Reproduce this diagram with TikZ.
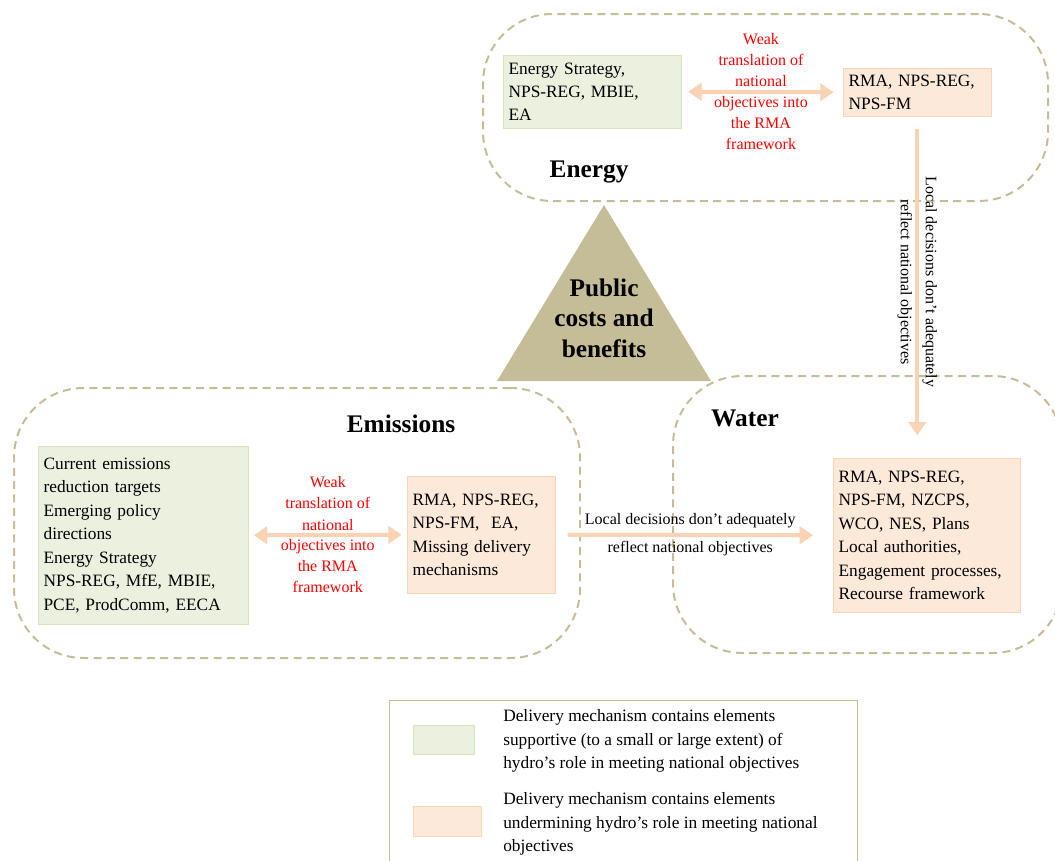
\documentclass[tikz,border=0pt]{standalone}
\usepackage{fontspec}
\setmainfont{Liberation Serif}
\usepackage{tikz}
\usetikzlibrary{positioning, arrows.meta, calc}

\definecolor{tanline}{HTML}{C4BD97}
\definecolor{suppfill}{HTML}{EBF1DE}
\definecolor{suppdraw}{HTML}{D7E4BD}
\definecolor{undmfill}{HTML}{FDE9D9}
\definecolor{undmdraw}{HTML}{FBD5B5}
\definecolor{linkcol}{HTML}{FAD2B4}

\begin{document}
\begin{tikzpicture}[
    x=0.75pt, y=-0.75pt,
    node distance=0.4cm,
    >={Triangle[length=10pt, width=13pt]},
    zone/.style={draw=tanline, line width=1.5pt, dash pattern=on 6pt off 4pt, rounded corners=52pt, anchor=north west, inner sep=0pt},
    mech/.style={anchor=north west, align=left, inner xsep=4pt, inner ysep=0pt, font=\fontsize{13}{17.6}\selectfont},
    supp/.style={mech, fill=suppfill, draw=suppdraw},
    undm/.style={mech, fill=undmfill, draw=undmdraw},
    weak/.style={font=\fontsize{12}{15.75}\selectfont, text=red, align=center},
    ttl/.style={font=\fontsize{19}{23}\selectfont\bfseries, align=center},
    lnk/.style={draw=linkcol, line width=3pt},
    gap/.style={font=\fontsize{12}{21}\selectfont, align=center, text=black},
    keytxt/.style={anchor=west, align=left, inner sep=0pt, font=\fontsize{13}{17.6}\selectfont},
]
\useasboundingbox (0,0) rectangle (1055,860);

% Zones
\node[zone, minimum width=423.75pt, minimum height=140.25pt] (energy) at (482,13) {};
\node[zone, minimum width=424.5pt, minimum height=202.5pt] (emissions) at (13,387) {};
\node[zone, minimum width=291.75pt, minimum height=207.75pt] (water) at (672,375) {};

\node[ttl] (energyTtl) at (589,172) {Energy};
\node[ttl] (emissionsTtl) at (401,424) {Emissions};
\node[ttl] (waterTtl) at (745,418) {Water};

% Public costs and benefits
\fill[tanline] (604,205) -- (711,381) -- (497,381) -- cycle;
\node[ttl] (pcb) at (604,318) {Public\\costs and\\benefits};

% Energy
\node[supp, text width=125.5pt, minimum height=54.75pt] (eStrat) at (503,55) {Energy Strategy,\\NPS-REG, MBIE,\\EA};
\node[undm, text width=103pt, minimum height=36pt] (eRMA) at (843,68) {RMA, NPS-REG,\\NPS-FM};
\draw[lnk, <->] ([xshift=5pt]eStrat.east) -- ([xshift=-7pt]eRMA.west)
    node[midway, weak] {Weak\\translation of\\national\\objectives into\\the RMA\\framework};

% Emissions
\node[supp, text width=149.5pt, minimum height=133.5pt] (mStrat) at (38,446) {Current emissions\\reduction targets\\Emerging policy\\directions\\Energy Strategy\\NPS-REG, MfE, MBIE,\\PCE, ProdComm, EECA};
\node[undm, text width=103pt, minimum height=87.75pt] (mRMA) at (407,476) {RMA, NPS-REG,\\NPS-FM,\ \ EA,\\Missing delivery\\mechanisms};
\draw[lnk, <->] ([xshift=4pt]mStrat.east) -- ([xshift=-4pt]mRMA.west)
    node[midway, weak] {Weak\\translation of\\national\\objectives into\\the RMA\\framework};

% Water
\node[undm, text width=132.25pt, minimum height=115.5pt] (wRMA) at (833,458) {RMA, NPS-REG,\\NPS-FM, NZCPS,\\WCO, NES, Plans\\Local authorities,\\Engagement processes,\\Recourse framework};

% local decisions
\coordinate (wTop) at (eRMA.south |- wRMA.north);
\draw[lnk, ->] ([yshift=-9pt]eRMA.south) -- ([yshift=17pt]wTop)
    node[midway, gap, rotate=-90, font=\fontsize{12}{18.75}\selectfont] {Local decisions don't adequately\\reflect national objectives};
\draw[lnk, ->] ([xshift=9pt]mRMA.east) -- ([xshift=-15pt]wRMA.west)
    node[midway, gap] {Local decisions don't adequately\\reflect national objectives};

% Key
\node[draw=tanline, line width=0.75pt, anchor=north west, minimum width=351pt, minimum height=127.5pt] (key) at (389,700) {};
\node[fill=suppfill, draw=suppdraw, anchor=north west, minimum width=45.75pt, minimum height=21.75pt] (keySupp) at (413,725) {};
\node[fill=undmfill, draw=undmdraw, anchor=north west, minimum width=51pt, minimum height=22.5pt] (keyUndm) at (413,806) {};
\node[keytxt] (keySuppTxt) at (503,741) {Delivery mechanism contains elements\\supportive (to a small or large extent) of\\hydro's role in meeting national objectives};
\node[keytxt] (keyUndmTxt) at (503,824) {Delivery mechanism contains elements\\undermining hydro's role in meeting national\\objectives};

\end{tikzpicture}
\end{document}
